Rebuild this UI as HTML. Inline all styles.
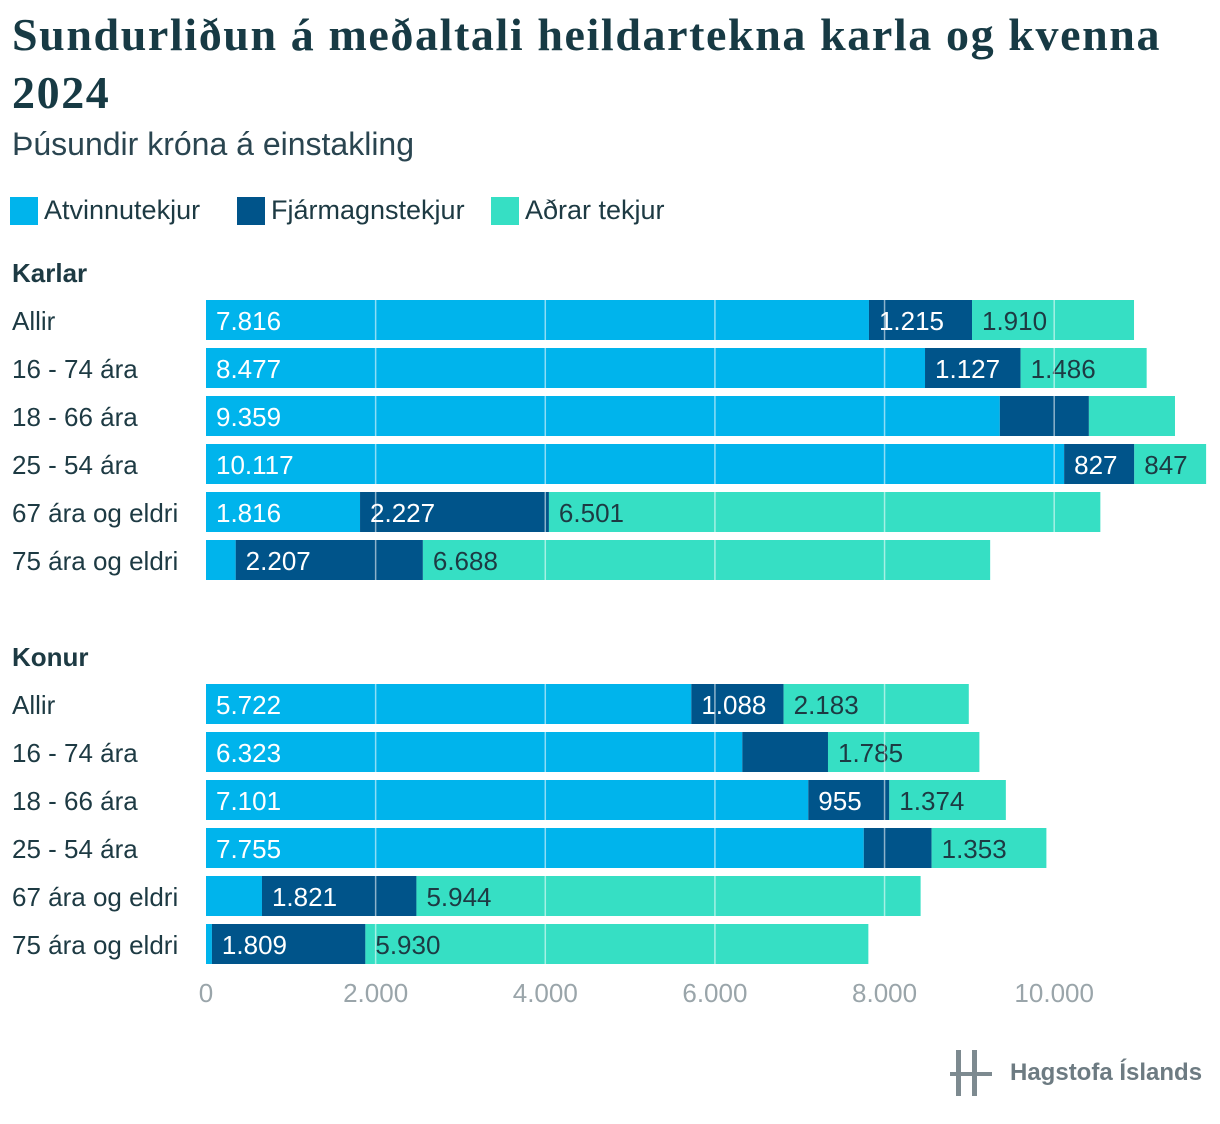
<!DOCTYPE html>
<html><head><meta charset="utf-8">
<style>
body{margin:0;background:#fff;width:1220px;height:1124px;overflow:hidden;font-family:"Liberation Sans",sans-serif;color:#1d3a43}
#title{position:absolute;left:12px;top:6px;font-family:"Liberation Serif",serif;font-size:46px;line-height:58px;color:#173a44;font-weight:bold;letter-spacing:1.6px}
#sub{position:absolute;left:12px;top:126px;font-size:32px;color:#2a4550;font-weight:300}
.leg{position:absolute;top:195px;font-size:27px;color:#1d3a43;display:flex;align-items:center}
.sw{width:28px;height:28px;margin-right:6px}
</style></head><body>
<div id="title">Sundurliðun á meðaltali heildartekna karla og kvenna<br>2024</div>
<div id="sub">Þúsundir króna á einstakling</div>
<div class="leg" style="left:10px"><div class="sw" style="background:#00b4ec"></div>Atvinnutekjur</div>
<div class="leg" style="left:237px"><div class="sw" style="background:#00548a"></div>Fjármagnstekjur</div>
<div class="leg" style="left:491px"><div class="sw" style="background:#36dfc4"></div>Aðrar tekjur</div>
<svg id="chart" width="1220" height="1124" style="position:absolute;left:0;top:0"></svg>
<div style="position:absolute;left:950px;top:1048px;display:flex;align-items:center">
<svg width="44" height="50"><rect x="6" y="2" width="5" height="46" fill="#7d8a90"/><rect x="22" y="2" width="5" height="46" fill="#7d8a90"/><rect x="0" y="24" width="42" height="4" fill="#7d8a90"/></svg>
<span style="font-size:24px;color:#6d7b82;font-weight:bold;margin-left:16px">Hagstofa Íslands</span></div>
<script>
const groups=["Karlar","Konur"];
const categories=["Allir","16 - 74 ára","18 - 66 ára","25 - 54 ára","67 ára og eldri","75 ára og eldri"];
const karlarAtv=[7816,8477,9359,10117,1816,350];
const karlarFja=[1215,1127,1050,827,2227,2207];
const karlarAdr=[1910,1486,1015,847,6501,6688];
const konurAtv=[5722,6323,7101,7755,660,70];
const konurFja=[1088,1010,955,800,1821,1809];
const konurAdr=[2183,1785,1374,1353,5944,5930];
const showKarlar=[[1,1,1],[1,1,1],[1,0,0],[1,1,1],[1,1,1],[0,1,1]];
const showKonur=[[1,1,1],[1,0,1],[1,1,1],[1,0,1],[0,1,1],[0,1,1]];
const ticks=[0,2000,4000,6000,8000,10000];
const tickLabels=["0","2.000","4.000","6.000","8.000","10.000"];
const colors=["#00b4ec","#00548a","#36dfc4"];
const textColors=["#fff","#fff","#1d3a43"];
const svg=document.getElementById('chart');
const NS="http://www.w3.org/2000/svg";
const x=v=>206+v*0.08482;
const fmt=v=>v.toLocaleString('de-DE');
function el(t,a){const e=document.createElementNS(NS,t);for(const k in a)e.setAttribute(k,a[k]);svg.appendChild(e);return e;}
const data=[[karlarAtv,karlarFja,karlarAdr,showKarlar,272],[konurAtv,konurFja,konurAdr,showKonur,656]];
data.forEach((g,gi)=>{
  const h=el('text',{x:12,y:g[4]+10,'font-size':26,'font-weight':'bold',fill:'#1d3a43'});h.textContent=groups[gi];
  
  
  categories.forEach((c,i)=>{
    const cy=g[4]+48+i*48;
    const l=el('text',{x:12,y:cy+10,'font-size':26,fill:'#1d3a43'});l.textContent=c;
    
    
    let acc=0;
    [g[0],g[1],g[2]].forEach((s,si)=>{
      const v=s[i];
      const r=el('rect',{x:x(acc),y:cy-20,width:x(acc+v)-x(acc),height:40,fill:colors[si]});
      
      
      if(g[3][i][si]){const t=el('text',{x:x(acc)+10,y:cy+10,'font-size':26,fill:textColors[si],'font-weight':300});t.textContent=fmt(v);
        
        }
      acc+=v;
    });
  });
});
ticks.forEach((t,i)=>{
  if(i>0){const ln=el('line',{x1:x(t),x2:x(t),y1:296,y2:968,stroke:'#fff','stroke-opacity':0.55,'stroke-width':1.5});
    
    }
  const tx=el('text',{x:x(t),y:1002,'font-size':26,fill:'#9aa5aa','text-anchor':'middle','font-weight':300});tx.textContent=tickLabels[i];
  
  
});
</script>
</body></html>
